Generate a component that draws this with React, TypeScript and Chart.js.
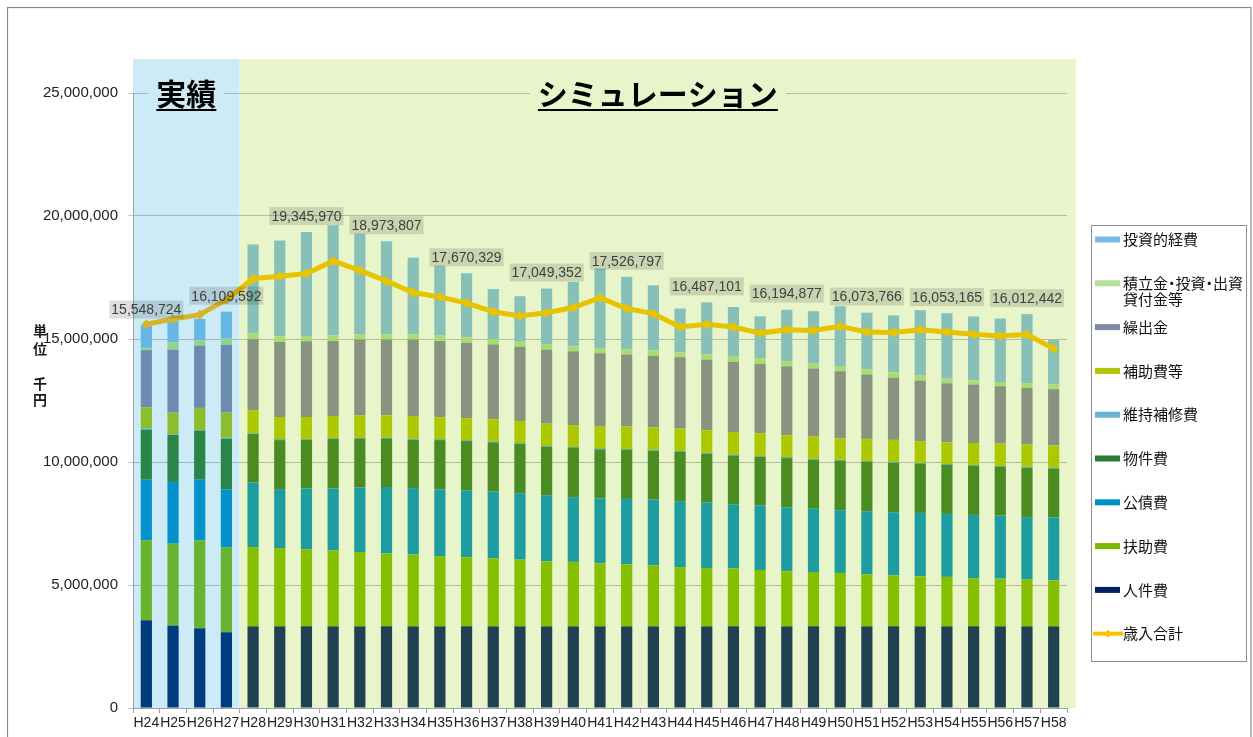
import React, { useEffect, useRef } from 'react';
import { Chart, registerables } from 'chart.js';

Chart.register(...registerables);

// ---------- data (単位: 千円) ----------
const years = [
  'H24', 'H25', 'H26', 'H27', 'H28', 'H29', 'H30', 'H31', 'H32', 'H33', 'H34', 'H35',
  'H36', 'H37', 'H38', 'H39', 'H40', 'H41', 'H42', 'H43', 'H44', 'H45', 'H46', 'H47',
  'H48', 'H49', 'H50', 'H51', 'H52', 'H53', 'H54', 'H55', 'H56', 'H57', 'H58',
];
const ACTUAL_YEARS = 4; // H24〜H27 実績

const jinkenhi = [
  3570000, 3350000, 3240000, 3080000, 3320000, 3320000, 3320000, 3320000, 3320000, 3320000,
  3320000, 3320000, 3320000, 3320000, 3320000, 3320000, 3320000, 3320000, 3320000, 3320000,
  3320000, 3320000, 3320000, 3320000, 3320000, 3320000, 3320000, 3320000, 3320000, 3320000,
  3320000, 3320000, 3320000, 3320000, 3320000,
];
const fujohi = [
  3250000, 3330000, 3580000, 3450000, 3220000, 3180000, 3130000, 3090000, 3020000, 2960000,
  2920000, 2860000, 2810000, 2770000, 2710000, 2640000, 2620000, 2560000, 2520000, 2470000,
  2410000, 2370000, 2350000, 2290000, 2240000, 2210000, 2170000, 2120000, 2070000, 2030000,
  2010000, 1960000, 1940000, 1900000, 1870000,
];
const kosaihi = [
  2460000, 2510000, 2460000, 2360000, 2630000, 2400000, 2480000, 2520000, 2620000, 2700000,
  2700000, 2710000, 2720000, 2710000, 2700000, 2690000, 2630000, 2640000, 2660000, 2680000,
  2680000, 2660000, 2610000, 2620000, 2600000, 2570000, 2550000, 2560000, 2570000, 2580000,
  2560000, 2570000, 2560000, 2540000, 2560000,
];
const bukkenhi = [
  2040000, 1910000, 2000000, 2050000, 1970000, 1990000, 1980000, 2010000, 2000000, 1980000,
  1970000, 2000000, 2000000, 2000000, 2000000, 1960000, 2000000, 2000000, 1990000, 1990000,
  2000000, 1990000, 1990000, 1990000, 2000000, 2000000, 2020000, 2000000, 2000000, 1990000,
  1990000, 1990000, 1980000, 2010000, 1990000,
];
const ijihoshuhi = [
  50000, 30000, 20000, 40000, 30000, 40000, 30000, 30000, 40000, 40000,
  40000, 40000, 40000, 40000, 40000, 40000, 40000, 40000, 40000, 40000,
  40000, 40000, 40000, 40000, 40000, 40000, 40000, 40000, 40000, 40000,
  40000, 40000, 40000, 40000, 40000,
];
const hojohi = [
  850000, 880000, 900000, 1030000, 940000, 900000, 890000, 900000, 890000, 900000,
  920000, 890000, 890000, 900000, 900000, 910000, 890000, 900000, 910000, 900000,
  910000, 910000, 910000, 910000, 890000, 900000, 860000, 900000, 900000, 890000,
  880000, 890000, 910000, 900000, 890000,
];
const kuridashikin = [
  2330000, 2560000, 2530000, 2760000, 2880000, 3050000, 3080000, 3050000, 3090000, 3080000,
  3110000, 3100000, 3070000, 3040000, 3020000, 3010000, 3000000, 2960000, 2930000, 2920000,
  2900000, 2870000, 2860000, 2810000, 2800000, 2760000, 2730000, 2620000, 2530000, 2460000,
  2400000, 2380000, 2330000, 2300000, 2290000,
];
const tsumitatekin = [
  90000, 300000, 220000, 250000, 230000, 230000, 210000, 220000, 200000, 210000,
  210000, 220000, 220000, 210000, 200000, 200000, 200000, 210000, 210000, 220000,
  200000, 220000, 200000, 240000, 200000, 200000, 210000, 210000, 220000, 200000,
  190000, 170000, 170000, 200000, 200000,
];
const toshitekikeihi = [
  910000, 850000, 870000, 1090000, 3620000, 3890000, 4230000, 4480000, 4100000, 3780000,
  3120000, 2840000, 2600000, 2040000, 1850000, 2280000, 2620000, 3230000, 2950000, 2640000,
  1780000, 2110000, 2020000, 1700000, 2100000, 2130000, 2430000, 2300000, 2310000, 2660000,
  2660000, 2590000, 2580000, 2800000, 1820000,
];
const sainyuGokei = [
  15600000, 15810000, 15990000, 16600000, 17450000, 17550000, 17660000, 18170000, 17790000, 17350000,
  16890000, 16710000, 16460000, 16110000, 15940000, 16070000, 16280000, 16680000, 16240000, 16030000,
  15490000, 15600000, 15490000, 15240000, 15380000, 15350000, 15520000, 15280000, 15260000, 15380000,
  15280000, 15190000, 15120000, 15180000, 14610000,
];
// 歳出合計ラベル (3年ごと)
const saishutsuLabels = [
  15548724, null, null, 16109592, null, null, 19345970, null, null, 18973807,
  null, null, 17670329, null, null, 17049352, null, null, 17526797, null,
  null, 16487101, null, null, 16194877, null, null, 16073766, null, null,
  16053165, null, null, 16012442, null,
];
const yTicks = [0, 5000000, 10000000, 15000000, 20000000, 25000000];

// ---------- styles ----------
const NUM_FONT = "'Liberation Sans', Arial, 'Noto Sans CJK JP', sans-serif";
const JP_FONT = "'Noto Sans CJK JP', 'Liberation Sans', sans-serif";

const regionColor = (actual: string, sim: string) =>
  years.map((_, i) => (i < ACTUAL_YEARS ? actual : sim));

const barSeries = [
  { label: '人件費', data: jinkenhi, legend: '#002062', actual: '#003b80', sim: '#1e4252' },
  { label: '扶助費', data: fujohi, legend: '#7cb800', actual: '#69b42e', sim: '#86bf00' },
  { label: '公債費', data: kosaihi, legend: '#0090c8', actual: '#0591c9', sim: '#1d9da0' },
  { label: '物件費', data: bukkenhi, legend: '#2f7a33', actual: '#2a8548', sim: '#4a8b22' },
  { label: '維持補修費', data: ijihoshuhi, legend: '#6cb4d0', actual: '#5ab0d8', sim: '#5aa8b0' },
  { label: '補助費等', data: hojohi, legend: '#b4c400', actual: '#8cbd2e', sim: '#aec800' },
  { label: '繰出金', data: kuridashikin, legend: '#8088a8', actual: '#6b8bb0', sim: '#88947f' },
  { label: '積立金・投資・出資貸付金等', data: tsumitatekin, legend: '#b4e09a', actual: '#8ed48c', sim: '#a8dc70' },
  { label: '投資的経費', data: toshitekikeihi, legend: '#7cb8e4', actual: '#66b6e6', sim: '#86c0b8' },
];

const LINE_ACTUAL = '#d3b62a';
const LINE_SIM = '#e8c300';

// narrow middle dot rendering helpers
const advance = (ctx: CanvasRenderingContext2D, c: string) => {
  const w = ctx.measureText(c).width;
  return c === '・' ? w * 0.5 : w;
};
const drawNarrowText = (ctx: CanvasRenderingContext2D, s: string, x: number, y: number) => {
  let cx = x;
  Array.from(s).forEach((c) => {
    const w = ctx.measureText(c).width;
    const a = advance(ctx, c);
    ctx.fillText(c, cx - (w - a) / 2, y);
    cx += a;
  });
};

// ---------- plugins ----------
const backgroundPlugin = {
  id: 'regionBackground',
  beforeDraw(chart: any) {
    const { ctx, chartArea, width, height } = chart;
    const x = chart.scales.x;
    const boundary = (x.getPixelForValue(ACTUAL_YEARS - 1) + x.getPixelForValue(ACTUAL_YEARS)) / 2;
    const top = chartArea.top - 34;
    ctx.save();
    ctx.fillStyle = '#ffffff';
    ctx.fillRect(0, 0, width, height);
    ctx.fillStyle = '#cdebf6';
    ctx.fillRect(chartArea.left, top, boundary - chartArea.left, chartArea.bottom - top);
    ctx.fillStyle = '#e8f5cb';
    ctx.fillRect(boundary, top, chartArea.right + 9 - boundary, chartArea.bottom - top);
    // outer frame
    ctx.strokeStyle = '#8c8c8c';
    ctx.lineWidth = 1.2;
    ctx.strokeRect(7.5, 7.5, width - 9.5, height + 20);
    // unit label
    ctx.fillStyle = '#1a1a1a';
    ctx.font = `bold 14px ${JP_FONT}`;
    ctx.textAlign = 'center';
    ctx.textBaseline = 'middle';
    const unitChars: [string, number][] = [['単', 331], ['位', 349], ['千', 384], ['円', 400]];
    unitChars.forEach(([c, y]) => ctx.fillText(c, 40, y));
    ctx.restore();
  },
  beforeDatasetsDraw(chart: any) {
    const { ctx, chartArea } = chart;
    const x = chart.scales.x;
    const boundary = (x.getPixelForValue(ACTUAL_YEARS - 1) + x.getPixelForValue(ACTUAL_YEARS)) / 2;
    const cy = chartArea.top + 1;
    const titles: [string, number, number, string][] = [
      ['実績', chartArea.left, boundary, '#cdebf6'],
      ['シミュレーション', boundary, chartArea.right + 9, '#e8f5cb'],
    ];
    ctx.save();
    ctx.font = `bold 30px ${JP_FONT}`;
    ctx.textAlign = 'center';
    ctx.textBaseline = 'middle';
    titles.forEach(([t, l, r, bg]) => {
      const cx = (l + r) / 2;
      const w = ctx.measureText(t).width;
      ctx.fillStyle = bg;
      ctx.fillRect(Math.max(l, cx - w / 2 - 8), cy - 18, Math.min(r - l, w + 16), 36);
      ctx.fillStyle = '#000000';
      ctx.fillText(t, cx, cy);
      ctx.fillRect(cx - w / 2, cy + 15, w, 2);
    });
    ctx.restore();
  },
};

const totalLabelPlugin = {
  id: 'totalLabels',
  afterDatasetsDraw(chart: any) {
    const { ctx } = chart;
    const x = chart.scales.x;
    const y = chart.scales.y;
    ctx.save();
    ctx.font = `14px ${NUM_FONT}`;
    ctx.textAlign = 'center';
    ctx.textBaseline = 'middle';
    saishutsuLabels.forEach((v, i) => {
      if (v == null) return;
      const text = v.toLocaleString('en-US');
      const cx = x.getPixelForValue(i);
      const cy = y.getPixelForValue(v) - 16;
      const w = ctx.measureText(text).width + 4;
      ctx.fillStyle = 'rgba(0,0,0,0.13)';
      ctx.fillRect(cx - w / 2, cy - 9, w, 18);
      ctx.fillStyle = '#404040';
      ctx.fillText(text, cx, cy + 1);
    });
    ctx.restore();
  },
};

const legendPlugin = {
  id: 'boxLegend',
  afterDraw(chart: any) {
    const { ctx, chartArea } = chart;
    const boxX = chartArea.right + 24.5;
    const boxY = 225.5;
    const boxW = 155;
    const boxH = 436;
    ctx.save();
    ctx.fillStyle = '#ffffff';
    ctx.fillRect(boxX, boxY, boxW, boxH);
    ctx.strokeStyle = '#8c8c8c';
    ctx.lineWidth = 1;
    ctx.strokeRect(boxX, boxY, boxW, boxH);
    const datasets = chart.data.datasets;
    const bars = datasets.filter((d: any) => d.type !== 'line').slice().reverse();
    const lines = datasets.filter((d: any) => d.type === 'line');
    const items = [...bars, ...lines];
    ctx.font = `15px ${JP_FONT}`;
    ctx.textAlign = 'left';
    ctx.textBaseline = 'middle';
    const textX = boxX + 31.5;
    const maxW = boxX + boxW - textX;
    items.forEach((d: any, k: number) => {
      const cy = 239.5 + k * 43.8;
      const sx = boxX + 3.5;
      if (d.type === 'line') {
        ctx.strokeStyle = d.legendColor;
        ctx.lineWidth = 4;
        ctx.beginPath();
        ctx.moveTo(sx - 2, cy);
        ctx.lineTo(sx + 28, cy);
        ctx.stroke();
        ctx.fillStyle = d.legendColor;
        ctx.beginPath();
        ctx.moveTo(sx + 13, cy - 4);
        ctx.lineTo(sx + 17, cy);
        ctx.lineTo(sx + 13, cy + 4);
        ctx.lineTo(sx + 9, cy);
        ctx.closePath();
        ctx.fill();
      } else {
        ctx.fillStyle = d.legendColor;
        ctx.fillRect(sx, cy - 3, 25, 6);
      }
      // wrap text
      const chars = Array.from(d.label as string);
      const rows: string[] = [];
      let cur = '';
      let curW = 0;
      chars.forEach((c) => {
        const a = advance(ctx, c);
        if (curW + a > maxW && cur) {
          rows.push(cur);
          cur = c;
          curW = a;
        } else {
          cur += c;
          curW += a;
        }
      });
      if (cur) rows.push(cur);
      ctx.fillStyle = '#111111';
      rows.forEach((r, ri) => drawNarrowText(ctx, r, textX, cy + ri * 16));
    });
    ctx.restore();
  },
};

export default function App() {
  const canvasRef = useRef<HTMLCanvasElement | null>(null);

  useEffect(() => {
    if (!canvasRef.current) return;
    const datasets: any[] = barSeries.map((s) => ({
      type: 'bar',
      label: s.label,
      data: s.data,
      backgroundColor: regionColor(s.actual, s.sim),
      legendColor: s.legend,
      stack: 'saishutsu',
      order: 1,
      barPercentage: 0.42,
      categoryPercentage: 1,
      borderWidth: 0,
    }));
    datasets.push({
      type: 'line',
      label: '歳入合計',
      data: sainyuGokei,
      legendColor: '#ffc000',
      borderColor: LINE_SIM,
      borderWidth: 5,
      segment: {
        borderColor: (c: any) => (c.p1DataIndex < ACTUAL_YEARS ? LINE_ACTUAL : LINE_SIM),
      },
      pointStyle: 'rectRot',
      pointRadius: 5,
      pointBorderWidth: 0,
      pointBackgroundColor: regionColor(LINE_ACTUAL, LINE_SIM),
      tension: 0,
      order: 0,
    });

    const chart = new Chart(canvasRef.current, {
      type: 'bar',
      data: { labels: years, datasets },
      options: {
        animation: false,
        responsive: true,
        maintainAspectRatio: false,
        events: [],
        layout: { padding: { left: 0, right: 186, top: 93, bottom: 0 } },
        plugins: {
          legend: { display: false },
          tooltip: { enabled: false },
          title: { display: false },
        },
        scales: {
          x: {
            stacked: true,
            grid: {
              offset: true,
              drawOnChartArea: false,
              drawTicks: true,
              tickLength: 5,
              color: '#a0a0a0',
            },
            border: { color: '#a0a0a0' },
            ticks: {
              autoSkip: false,
              maxRotation: 0,
              minRotation: 0,
              padding: 2,
              color: '#222222',
              font: { size: 14, family: NUM_FONT },
            },
            afterFit: (s: any) => {
              s.height = 29;
            },
          },
          y: {
            stacked: true,
            min: 0,
            max: 25000000,
            afterBuildTicks: (s: any) => {
              s.ticks = yTicks.map((v) => ({ value: v }));
            },
            grid: {
              color: 'rgba(0,0,0,0.22)',
              tickLength: 5,
            },
            border: { color: '#a0a0a0' },
            ticks: {
              padding: 10,
              color: '#222222',
              font: { size: 15, family: NUM_FONT },
              callback: (v: any) => Number(v).toLocaleString('en-US'),
            },
            afterFit: (s: any) => {
              s.width = 133;
            },
          },
        },
      } as any,
      plugins: [backgroundPlugin, totalLabelPlugin, legendPlugin],
    });
    return () => chart.destroy();
  }, []);

  return (
    <div
      style={{
        position: 'fixed',
        left: 0,
        top: 0,
        width: 1253,
        height: 737,
        overflow: 'hidden',
        background: '#ffffff',
      }}
    >
      <canvas ref={canvasRef} />
    </div>
  );
}
